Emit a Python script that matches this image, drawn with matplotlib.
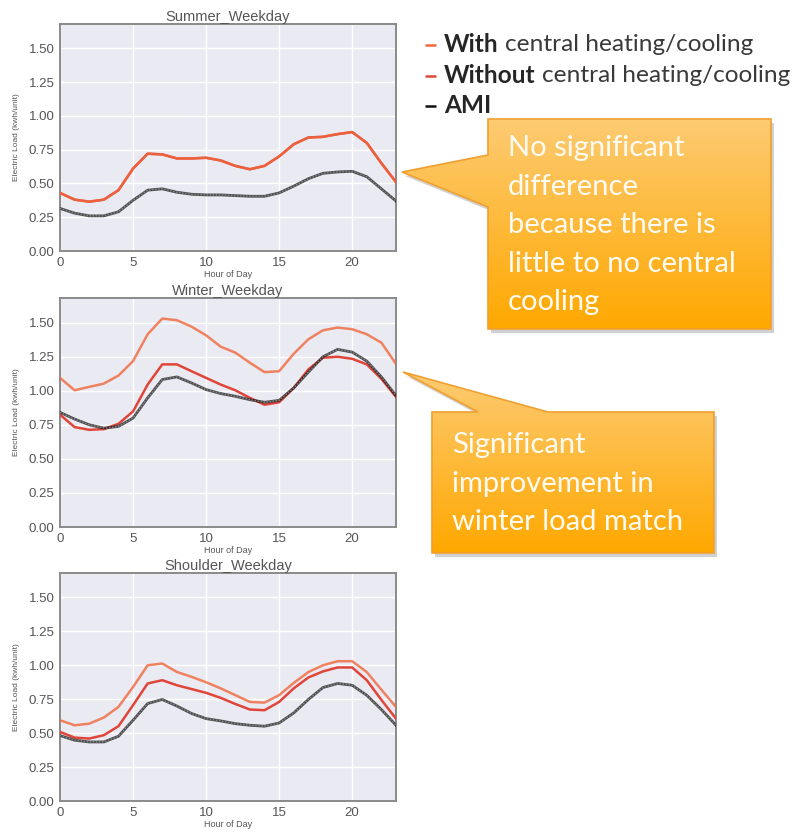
import numpy as np
import matplotlib
matplotlib.use("Agg")
import matplotlib.pyplot as plt
from matplotlib.patches import Polygon

# Hourly load profiles (kWh/unit)
hours = list(range(24))

summer_with = [0.43, 0.38, 0.365, 0.38, 0.45, 0.61, 0.72, 0.715, 0.685, 0.685, 0.69, 0.67,
               0.63, 0.605, 0.63, 0.70, 0.79, 0.84, 0.845, 0.865, 0.88, 0.80, 0.65, 0.51]
summer_without = [0.43, 0.38, 0.365, 0.38, 0.45, 0.61, 0.72, 0.715, 0.685, 0.685, 0.69, 0.67,
                  0.63, 0.605, 0.63, 0.70, 0.79, 0.84, 0.845, 0.865, 0.88, 0.80, 0.65, 0.51]
summer_ami = [0.315, 0.28, 0.26, 0.26, 0.29, 0.375, 0.45, 0.46, 0.435, 0.42, 0.415, 0.415,
              0.41, 0.405, 0.405, 0.43, 0.48, 0.535, 0.575, 0.585, 0.59, 0.55, 0.46, 0.37]

winter_with = [1.094, 1.003, 1.028, 1.052, 1.111, 1.217, 1.414, 1.529, 1.517, 1.47, 1.406, 1.323,
               1.279, 1.205, 1.136, 1.143, 1.271, 1.377, 1.443, 1.463, 1.451, 1.414, 1.352, 1.197]
winter_without = [0.824, 0.733, 0.713, 0.718, 0.757, 0.848, 1.045, 1.193, 1.193, 1.143, 1.094, 1.045,
                  1.003, 0.947, 0.897, 0.915, 1.02, 1.156, 1.242, 1.249, 1.234, 1.193, 1.087, 0.954]
winter_ami = [0.841, 0.792, 0.75, 0.725, 0.738, 0.799, 0.947, 1.082, 1.101, 1.057, 1.008, 0.979,
              0.959, 0.934, 0.915, 0.929, 1.02, 1.136, 1.249, 1.303, 1.283, 1.217, 1.101, 0.964]

shoulder_with = [0.595, 0.558, 0.57, 0.615, 0.693, 0.84, 1.0, 1.013, 0.951, 0.915, 0.875, 0.83,
                 0.78, 0.73, 0.725, 0.78, 0.87, 0.95, 1.0, 1.03, 1.03, 0.95, 0.82, 0.693]
shoulder_without = [0.509, 0.467, 0.46, 0.485, 0.551, 0.706, 0.866, 0.89, 0.853, 0.825, 0.797, 0.76,
                    0.715, 0.674, 0.669, 0.73, 0.83, 0.91, 0.955, 0.984, 0.984, 0.89, 0.745, 0.607]
shoulder_ami = [0.482, 0.448, 0.435, 0.435, 0.477, 0.595, 0.718, 0.748, 0.70, 0.645, 0.607, 0.59,
                0.57, 0.558, 0.551, 0.575, 0.649, 0.748, 0.836, 0.866, 0.853, 0.779, 0.674, 0.558]

panel_titles = ["Summer_Weekday", "Winter_Weekday", "Shoulder_Weekday"]
panel_data = [
    (summer_with, summer_without, summer_ami),
    (winter_with, winter_without, winter_ami),
    (shoulder_with, shoulder_without, shoulder_ami),
]
y_ticks = [0.00, 0.25, 0.50, 0.75, 1.00, 1.25, 1.50]
x_ticks = [0, 5, 10, 15, 20]

legend_bold = ["With", "Without", "AMI"]
legend_rest = ["central heating/cooling", "central heating/cooling", ""]
callout_top = ["No significant", "difference", "because there is", "little to no central", "cooling"]
callout_bottom = ["Significant", "improvement in", "winter load match"]

C_WITH = "#F0683C"
C_WITHOUT = "#E0453A"
C_AMI = "#1a1a1a"
BG = "#EAEAF2"
GRAY = "#555555"

W, H = 800, 834
fig = plt.figure(figsize=(W / 100, H / 100), dpi=100)
fig.patch.set_facecolor("white")

# axes boxes in pixel coords: (left, top, right, bottom)
boxes = [(60, 24, 396, 251), (60, 298, 396, 527), (60, 573, 396, 801)]

for (l, t, r, b), title, (s_with, s_without, s_ami) in zip(boxes, panel_titles, panel_data):
    ax = fig.add_axes([l / W, 1 - b / H, (r - l) / W, (b - t) / H])
    ax.set_facecolor(BG)
    ax.grid(True, color="white", linewidth=1.0)
    ax.set_axisbelow(True)
    for sp in ax.spines.values():
        sp.set_color("#8a8a8a")
        sp.set_linewidth(1.4)
    ax.plot(hours, s_without, color=C_WITHOUT, lw=1.8, zorder=3)
    ax.plot(hours, s_with, color=C_WITH, lw=1.8, alpha=0.8, zorder=4)
    ax.plot(hours, s_ami, color=C_AMI, lw=2.0, alpha=0.75, zorder=5)
    ax.plot(hours, s_ami, color="#9a9a9a", lw=1.0, ls=(0, (1, 1.2)), alpha=0.8, zorder=6)
    ax.set_xlim(0, 23)
    ax.set_ylim(0, 1.68)
    ax.set_xticks(x_ticks)
    ax.set_yticks(y_ticks)
    ax.set_yticklabels([f"{v:.2f}" for v in y_ticks])
    ax.tick_params(length=0, labelsize=9.5, labelcolor=GRAY, pad=4)
    for lab in ax.get_xticklabels() + ax.get_yticklabels():
        lab.set_family("Liberation Sans")
    ax.set_title(title, fontsize=10.5, color=GRAY, family="Liberation Sans", pad=2)
    ax.set_xlabel("Hour of Day", fontsize=6.5, color=GRAY, family="Liberation Sans", labelpad=1)
    ax.set_ylabel("Electric Load (kwh/unit)", fontsize=6, color=GRAY, family="Liberation Sans", labelpad=6)

# overlay in pixel coordinates for the legend text and the callouts
ov = fig.add_axes([0, 0, 1, 1], zorder=10)
ov.set_xlim(0, W)
ov.set_ylim(H, 0)
ov.axis("off")
ov.patch.set_alpha(0)

renderer = fig.canvas.get_renderer()


def right_edge(txt):
    bb = txt.get_window_extent(renderer)
    return ov.transData.inverted().transform((bb.x1, 0))[0]


# legend lines
legend_colors = [C_WITH, C_WITHOUT, "#111111"]
legend_y = [44, 75, 105]
for bold, rest, col, y in zip(legend_bold, legend_rest, legend_colors, legend_y):
    ov.plot([425, 436], [y + 1, y + 1], color=col, lw=1.8, solid_capstyle="butt")
    tb = ov.text(444, y, bold, color="#262626", fontsize=17.6, family="Lato", weight="bold",
                 va="center", ha="left")
    if rest:
        ov.text(right_edge(tb) + 6, y, rest, color="#3a3a3a", fontsize=17.6, family="Lato",
                va="center", ha="left")


def callout(points, lines, x_text, y_first, spacing):
    pts = np.array(points, dtype=float)
    shadow = Polygon(pts + np.array([3, 4]), closed=True, facecolor="#000000", alpha=0.18,
                     edgecolor="none", zorder=1)
    ov.add_patch(shadow)
    poly = Polygon(pts, closed=True, facecolor="none", edgecolor="#F0A030", lw=1.2, zorder=3)
    ov.add_patch(poly)
    xmin, ymin = pts.min(axis=0)
    xmax, ymax = pts.max(axis=0)
    grad = np.linspace(0, 1, 256)[:, None]
    top = np.array([253, 203, 115]) / 255
    bot = np.array([255, 168, 0]) / 255
    img = top[None, None, :] * (1 - grad[:, :, None]) + bot[None, None, :] * grad[:, :, None]
    im = ov.imshow(img, extent=(xmin, xmax, ymax, ymin), aspect="auto", zorder=2,
                   interpolation="bilinear")
    clip = Polygon(pts, closed=True, transform=ov.transData)
    im.set_clip_path(clip)
    for i, ln in enumerate(lines):
        ov.text(x_text, y_first + i * spacing, ln, color="#FFFBF2", fontsize=21, family="Lato",
                va="center", ha="left", zorder=4)


callout([(488, 119), (771, 119), (771, 329), (488, 329), (488, 207), (402, 172), (488, 155)],
        callout_top, 508, 148, 38.5)
callout([(432, 412), (478, 412), (403, 372), (548, 412), (714, 412), (714, 553), (432, 553)],
        callout_bottom, 452, 445, 38.5)

ov.set_xlim(0, W)
ov.set_ylim(H, 0)

fig.savefig("out.png", dpi=100)
